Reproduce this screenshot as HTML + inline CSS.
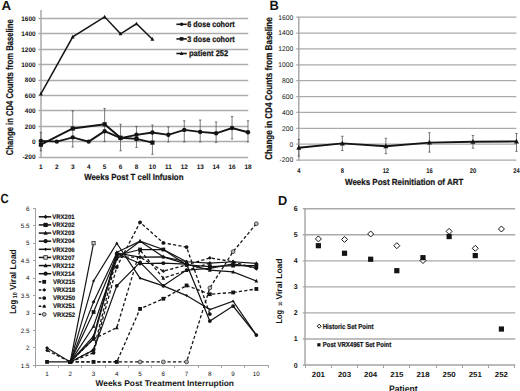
<!DOCTYPE html>
<html><head><meta charset="utf-8"><style>
html,body{margin:0;padding:0;background:#fff;}
body{width:520px;height:391px;overflow:hidden;}
svg{display:block;font-family:"Liberation Sans",sans-serif;text-rendering:geometricPrecision;}
</style></head><body>
<svg width="520" height="391" viewBox="0 0 520 391">
<rect width="520" height="391" fill="#fff"/>
<text x="1.60" y="9.90" font-size="13.2" font-weight="bold" text-anchor="start" fill="#141414" textLength="9.6" lengthAdjust="spacingAndGlyphs">A</text>
<line x1="38.40" y1="157.50" x2="248.20" y2="157.50" stroke="#acacac" stroke-width="1.3" />
<text x="35.60" y="159.30" font-size="6.6" font-weight="bold" text-anchor="end" fill="#141414">-200</text>
<line x1="38.40" y1="141.50" x2="248.20" y2="141.50" stroke="#acacac" stroke-width="1.3" />
<text x="35.60" y="143.90" font-size="6.6" font-weight="bold" text-anchor="end" fill="#141414" textLength="3.58" lengthAdjust="spacingAndGlyphs">0</text>
<line x1="38.40" y1="126.50" x2="248.20" y2="126.50" stroke="#acacac" stroke-width="1.3" />
<text x="35.60" y="128.50" font-size="6.6" font-weight="bold" text-anchor="end" fill="#141414" textLength="10.74" lengthAdjust="spacingAndGlyphs">200</text>
<line x1="38.40" y1="110.50" x2="248.20" y2="110.50" stroke="#acacac" stroke-width="1.3" />
<text x="35.60" y="113.10" font-size="6.6" font-weight="bold" text-anchor="end" fill="#141414" textLength="10.74" lengthAdjust="spacingAndGlyphs">400</text>
<line x1="38.40" y1="95.50" x2="248.20" y2="95.50" stroke="#acacac" stroke-width="1.3" />
<text x="35.60" y="97.70" font-size="6.6" font-weight="bold" text-anchor="end" fill="#141414" textLength="10.74" lengthAdjust="spacingAndGlyphs">600</text>
<line x1="38.40" y1="80.50" x2="248.20" y2="80.50" stroke="#acacac" stroke-width="1.3" />
<text x="35.60" y="82.30" font-size="6.6" font-weight="bold" text-anchor="end" fill="#141414" textLength="10.74" lengthAdjust="spacingAndGlyphs">800</text>
<line x1="38.40" y1="64.50" x2="248.20" y2="64.50" stroke="#acacac" stroke-width="1.3" />
<text x="35.60" y="66.90" font-size="6.6" font-weight="bold" text-anchor="end" fill="#141414" textLength="14.32" lengthAdjust="spacingAndGlyphs">1000</text>
<line x1="38.40" y1="49.50" x2="248.20" y2="49.50" stroke="#acacac" stroke-width="1.3" />
<text x="35.60" y="51.50" font-size="6.6" font-weight="bold" text-anchor="end" fill="#141414" textLength="14.32" lengthAdjust="spacingAndGlyphs">1200</text>
<line x1="38.40" y1="33.50" x2="248.20" y2="33.50" stroke="#acacac" stroke-width="1.3" />
<text x="35.60" y="36.10" font-size="6.6" font-weight="bold" text-anchor="end" fill="#141414" textLength="14.32" lengthAdjust="spacingAndGlyphs">1400</text>
<line x1="38.40" y1="18.50" x2="248.20" y2="18.50" stroke="#acacac" stroke-width="1.3" />
<text x="35.60" y="20.70" font-size="6.6" font-weight="bold" text-anchor="end" fill="#141414" textLength="14.32" lengthAdjust="spacingAndGlyphs">1600</text>
<line x1="41.00" y1="10.00" x2="41.00" y2="157.50" stroke="#a4a4a4" stroke-width="1.4" />
<text x="40.90" y="168.90" font-size="6.4" font-weight="bold" text-anchor="middle" fill="#141414">1</text>
<text x="56.83" y="168.90" font-size="6.4" font-weight="bold" text-anchor="middle" fill="#141414">2</text>
<text x="72.76" y="168.90" font-size="6.4" font-weight="bold" text-anchor="middle" fill="#141414">3</text>
<text x="88.69" y="168.90" font-size="6.4" font-weight="bold" text-anchor="middle" fill="#141414">4</text>
<text x="104.62" y="168.90" font-size="6.4" font-weight="bold" text-anchor="middle" fill="#141414">5</text>
<text x="120.55" y="168.90" font-size="6.4" font-weight="bold" text-anchor="middle" fill="#141414">6</text>
<text x="136.48" y="168.90" font-size="6.4" font-weight="bold" text-anchor="middle" fill="#141414">8</text>
<text x="152.41" y="168.90" font-size="6.4" font-weight="bold" text-anchor="middle" fill="#141414">10</text>
<text x="168.34" y="168.90" font-size="6.4" font-weight="bold" text-anchor="middle" fill="#141414">11</text>
<text x="184.27" y="168.90" font-size="6.4" font-weight="bold" text-anchor="middle" fill="#141414">12</text>
<text x="200.20" y="168.90" font-size="6.4" font-weight="bold" text-anchor="middle" fill="#141414">13</text>
<text x="216.13" y="168.90" font-size="6.4" font-weight="bold" text-anchor="middle" fill="#141414">14</text>
<text x="232.06" y="168.90" font-size="6.4" font-weight="bold" text-anchor="middle" fill="#141414">16</text>
<text x="247.99" y="168.90" font-size="6.4" font-weight="bold" text-anchor="middle" fill="#141414">18</text>
<text x="84.20" y="179.70" font-size="8.8" font-weight="bold" text-anchor="start" fill="#141414" textLength="99.3" lengthAdjust="spacingAndGlyphs" stroke="#141414" stroke-width="0.2">Weeks Post T cell Infusion</text>
<text x="13.50" y="155.20" font-size="9.8" font-weight="bold" text-anchor="start" fill="#141414" textLength="135.9" lengthAdjust="spacingAndGlyphs" transform="rotate(-90 13.50 155.20)" stroke="#141414" stroke-width="0.2">Change in CD4 Counts from Baseline</text>
<line x1="40.90" y1="132.36" x2="40.90" y2="150.84" stroke="#444" stroke-width="0.7" />
<line x1="39.70" y1="132.36" x2="42.10" y2="132.36" stroke="#444" stroke-width="0.7" />
<line x1="39.70" y1="150.84" x2="42.10" y2="150.84" stroke="#444" stroke-width="0.7" />
<line x1="72.76" y1="110.80" x2="72.76" y2="146.99" stroke="#444" stroke-width="0.7" />
<line x1="71.56" y1="110.80" x2="73.96" y2="110.80" stroke="#444" stroke-width="0.7" />
<line x1="71.56" y1="146.99" x2="73.96" y2="146.99" stroke="#444" stroke-width="0.7" />
<line x1="104.62" y1="108.49" x2="104.62" y2="141.60" stroke="#444" stroke-width="0.7" />
<line x1="103.42" y1="108.49" x2="105.82" y2="108.49" stroke="#444" stroke-width="0.7" />
<line x1="103.42" y1="141.60" x2="105.82" y2="141.60" stroke="#444" stroke-width="0.7" />
<line x1="120.55" y1="124.27" x2="120.55" y2="150.84" stroke="#444" stroke-width="0.7" />
<line x1="119.35" y1="124.27" x2="121.75" y2="124.27" stroke="#444" stroke-width="0.7" />
<line x1="119.35" y1="150.84" x2="121.75" y2="150.84" stroke="#444" stroke-width="0.7" />
<line x1="136.48" y1="126.58" x2="136.48" y2="147.38" stroke="#444" stroke-width="0.7" />
<line x1="135.28" y1="126.58" x2="137.68" y2="126.58" stroke="#444" stroke-width="0.7" />
<line x1="135.28" y1="147.38" x2="137.68" y2="147.38" stroke="#444" stroke-width="0.7" />
<line x1="152.41" y1="125.04" x2="152.41" y2="154.31" stroke="#444" stroke-width="0.7" />
<line x1="151.21" y1="125.04" x2="153.61" y2="125.04" stroke="#444" stroke-width="0.7" />
<line x1="151.21" y1="154.31" x2="153.61" y2="154.31" stroke="#444" stroke-width="0.7" />
<line x1="168.34" y1="126.97" x2="168.34" y2="141.98" stroke="#444" stroke-width="0.7" />
<line x1="167.14" y1="126.97" x2="169.54" y2="126.97" stroke="#444" stroke-width="0.7" />
<line x1="167.14" y1="141.98" x2="169.54" y2="141.98" stroke="#444" stroke-width="0.7" />
<line x1="184.27" y1="120.81" x2="184.27" y2="141.98" stroke="#444" stroke-width="0.7" />
<line x1="183.07" y1="120.81" x2="185.47" y2="120.81" stroke="#444" stroke-width="0.7" />
<line x1="183.07" y1="141.98" x2="185.47" y2="141.98" stroke="#444" stroke-width="0.7" />
<line x1="200.20" y1="120.04" x2="200.20" y2="141.98" stroke="#444" stroke-width="0.7" />
<line x1="199.00" y1="120.04" x2="201.40" y2="120.04" stroke="#444" stroke-width="0.7" />
<line x1="199.00" y1="141.98" x2="201.40" y2="141.98" stroke="#444" stroke-width="0.7" />
<line x1="216.13" y1="121.96" x2="216.13" y2="142.37" stroke="#444" stroke-width="0.7" />
<line x1="214.93" y1="121.96" x2="217.33" y2="121.96" stroke="#444" stroke-width="0.7" />
<line x1="214.93" y1="142.37" x2="217.33" y2="142.37" stroke="#444" stroke-width="0.7" />
<line x1="232.06" y1="116.57" x2="232.06" y2="138.91" stroke="#444" stroke-width="0.7" />
<line x1="230.86" y1="116.57" x2="233.26" y2="116.57" stroke="#444" stroke-width="0.7" />
<line x1="230.86" y1="138.91" x2="233.26" y2="138.91" stroke="#444" stroke-width="0.7" />
<line x1="247.99" y1="120.81" x2="247.99" y2="141.98" stroke="#444" stroke-width="0.7" />
<line x1="246.79" y1="120.81" x2="249.19" y2="120.81" stroke="#444" stroke-width="0.7" />
<line x1="246.79" y1="141.98" x2="249.19" y2="141.98" stroke="#444" stroke-width="0.7" />
<polyline points="40.90,93.86 72.76,36.88 104.62,16.86 120.55,33.80 136.48,23.79 152.41,39.19" fill="none" stroke="#141414" stroke-width="1.5" stroke-linejoin="miter"/>
<polygon points="40.90,91.77 42.80,95.38 39.00,95.38" fill="#141414"/>
<polygon points="72.76,34.79 74.66,38.40 70.86,38.40" fill="#141414"/>
<polygon points="104.62,14.77 106.52,18.38 102.72,18.38" fill="#141414"/>
<polygon points="120.55,31.71 122.45,35.32 118.65,35.32" fill="#141414"/>
<polygon points="136.48,21.70 138.38,25.31 134.58,25.31" fill="#141414"/>
<polygon points="152.41,37.10 154.31,40.71 150.51,40.71" fill="#141414"/>
<polyline points="40.90,140.83 56.83,141.60 72.76,137.36 88.69,141.60 104.62,131.20 120.55,138.13 136.48,134.82 152.41,132.51 168.34,134.82 184.27,129.90 200.20,131.90 216.13,133.28 232.06,128.05 247.99,132.21" fill="none" stroke="#141414" stroke-width="1.9" stroke-linejoin="miter"/>
<circle cx="40.90" cy="140.83" r="2.20" fill="#141414"/>
<circle cx="56.83" cy="141.60" r="2.20" fill="#141414"/>
<circle cx="72.76" cy="137.36" r="2.20" fill="#141414"/>
<circle cx="88.69" cy="141.60" r="2.20" fill="#141414"/>
<circle cx="104.62" cy="131.20" r="2.20" fill="#141414"/>
<circle cx="120.55" cy="138.13" r="2.20" fill="#141414"/>
<circle cx="136.48" cy="134.82" r="2.20" fill="#141414"/>
<circle cx="152.41" cy="132.51" r="2.20" fill="#141414"/>
<circle cx="168.34" cy="134.82" r="2.20" fill="#141414"/>
<circle cx="184.27" cy="129.90" r="2.20" fill="#141414"/>
<circle cx="200.20" cy="131.90" r="2.20" fill="#141414"/>
<circle cx="216.13" cy="133.28" r="2.20" fill="#141414"/>
<circle cx="232.06" cy="128.05" r="2.20" fill="#141414"/>
<circle cx="247.99" cy="132.21" r="2.20" fill="#141414"/>
<polyline points="40.90,144.68 72.76,128.51 104.62,124.27 120.55,137.75 136.48,138.91 152.41,142.60" fill="none" stroke="#141414" stroke-width="1.9" stroke-linejoin="miter"/>
<rect x="38.80" y="142.58" width="4.20" height="4.20" fill="#141414"/>
<rect x="70.66" y="126.41" width="4.20" height="4.20" fill="#141414"/>
<rect x="102.52" y="122.17" width="4.20" height="4.20" fill="#141414"/>
<rect x="118.45" y="135.65" width="4.20" height="4.20" fill="#141414"/>
<rect x="134.38" y="136.81" width="4.20" height="4.20" fill="#141414"/>
<rect x="150.31" y="140.50" width="4.20" height="4.20" fill="#141414"/>
<line x1="176.40" y1="24.30" x2="186.80" y2="24.30" stroke="#141414" stroke-width="1.6" />
<circle cx="181.60" cy="24.30" r="1.80" fill="#141414"/>
<text x="187.30" y="27.20" font-size="8.2" font-weight="bold" text-anchor="start" fill="#141414" textLength="47.3" lengthAdjust="spacingAndGlyphs" stroke="#141414" stroke-width="0.25">6 dose cohort</text>
<line x1="176.40" y1="38.90" x2="186.80" y2="38.90" stroke="#141414" stroke-width="1.6" />
<rect x="179.80" y="37.10" width="3.60" height="3.60" fill="#141414"/>
<text x="187.30" y="41.80" font-size="8.2" font-weight="bold" text-anchor="start" fill="#141414" textLength="47.3" lengthAdjust="spacingAndGlyphs" stroke="#141414" stroke-width="0.25">3 dose cohort</text>
<line x1="176.40" y1="53.50" x2="186.80" y2="53.50" stroke="#141414" stroke-width="1.6" />
<polygon points="181.60,51.52 183.40,54.94 179.80,54.94" fill="#141414"/>
<text x="188.90" y="56.40" font-size="8.2" font-weight="bold" text-anchor="start" fill="#141414" textLength="39.3" lengthAdjust="spacingAndGlyphs" stroke="#141414" stroke-width="0.25">patient 252</text>
<text x="269.40" y="9.60" font-size="13.4" font-weight="bold" text-anchor="start" fill="#141414" textLength="9.3" lengthAdjust="spacingAndGlyphs">B</text>
<line x1="296.20" y1="160.07" x2="516.40" y2="160.07" stroke="#aaaaaa" stroke-width="1.3" />
<text x="293.20" y="162.47" font-size="6.8" font-weight="normal" text-anchor="end" fill="#141414">-200</text>
<line x1="296.20" y1="144.20" x2="516.40" y2="144.20" stroke="#aaaaaa" stroke-width="1.3" />
<text x="293.20" y="146.60" font-size="6.8" font-weight="normal" text-anchor="end" fill="#141414" textLength="3.75" lengthAdjust="spacingAndGlyphs">0</text>
<line x1="296.20" y1="128.32" x2="516.40" y2="128.32" stroke="#aaaaaa" stroke-width="1.3" />
<text x="293.20" y="130.72" font-size="6.8" font-weight="normal" text-anchor="end" fill="#141414" textLength="11.25" lengthAdjust="spacingAndGlyphs">200</text>
<line x1="296.20" y1="112.45" x2="516.40" y2="112.45" stroke="#aaaaaa" stroke-width="1.3" />
<text x="293.20" y="114.85" font-size="6.8" font-weight="normal" text-anchor="end" fill="#141414" textLength="11.25" lengthAdjust="spacingAndGlyphs">400</text>
<line x1="296.20" y1="96.57" x2="516.40" y2="96.57" stroke="#aaaaaa" stroke-width="1.3" />
<text x="293.20" y="98.97" font-size="6.8" font-weight="normal" text-anchor="end" fill="#141414" textLength="11.25" lengthAdjust="spacingAndGlyphs">600</text>
<line x1="296.20" y1="80.70" x2="516.40" y2="80.70" stroke="#aaaaaa" stroke-width="1.3" />
<text x="293.20" y="83.10" font-size="6.8" font-weight="normal" text-anchor="end" fill="#141414" textLength="11.25" lengthAdjust="spacingAndGlyphs">800</text>
<line x1="296.20" y1="64.82" x2="516.40" y2="64.82" stroke="#aaaaaa" stroke-width="1.3" />
<text x="293.20" y="67.22" font-size="6.8" font-weight="normal" text-anchor="end" fill="#141414" textLength="15.0" lengthAdjust="spacingAndGlyphs">1000</text>
<line x1="296.20" y1="48.95" x2="516.40" y2="48.95" stroke="#aaaaaa" stroke-width="1.3" />
<text x="293.20" y="51.35" font-size="6.8" font-weight="normal" text-anchor="end" fill="#141414" textLength="15.0" lengthAdjust="spacingAndGlyphs">1200</text>
<line x1="296.20" y1="33.07" x2="516.40" y2="33.07" stroke="#aaaaaa" stroke-width="1.3" />
<text x="293.20" y="35.47" font-size="6.8" font-weight="normal" text-anchor="end" fill="#141414" textLength="15.0" lengthAdjust="spacingAndGlyphs">1400</text>
<line x1="296.20" y1="17.20" x2="516.40" y2="17.20" stroke="#aaaaaa" stroke-width="1.3" />
<text x="293.20" y="19.60" font-size="6.8" font-weight="normal" text-anchor="end" fill="#141414" textLength="15.0" lengthAdjust="spacingAndGlyphs">1600</text>
<line x1="298.80" y1="16.70" x2="298.80" y2="160.57" stroke="#a4a4a4" stroke-width="1.4" />
<text x="298.80" y="172.90" font-size="6.8" font-weight="bold" text-anchor="middle" fill="#141414" textLength="3.2" lengthAdjust="spacingAndGlyphs">4</text>
<text x="342.34" y="172.90" font-size="6.8" font-weight="bold" text-anchor="middle" fill="#141414" textLength="3.2" lengthAdjust="spacingAndGlyphs">8</text>
<text x="385.88" y="172.90" font-size="6.8" font-weight="bold" text-anchor="middle" fill="#141414" textLength="6.4" lengthAdjust="spacingAndGlyphs">12</text>
<text x="429.42" y="172.90" font-size="6.8" font-weight="bold" text-anchor="middle" fill="#141414" textLength="6.4" lengthAdjust="spacingAndGlyphs">16</text>
<text x="472.96" y="172.90" font-size="6.8" font-weight="bold" text-anchor="middle" fill="#141414" textLength="6.4" lengthAdjust="spacingAndGlyphs">20</text>
<text x="516.50" y="172.90" font-size="6.8" font-weight="bold" text-anchor="middle" fill="#141414" textLength="6.4" lengthAdjust="spacingAndGlyphs">24</text>
<text x="345.00" y="184.60" font-size="8.9" font-weight="bold" text-anchor="start" fill="#141414" textLength="118.3" lengthAdjust="spacingAndGlyphs" stroke="#141414" stroke-width="0.2">Weeks Post Reinitiation of ART</text>
<text x="272.30" y="159.80" font-size="9.8" font-weight="bold" text-anchor="start" fill="#141414" textLength="142.5" lengthAdjust="spacingAndGlyphs" transform="rotate(-90 272.30 159.80)" stroke="#141414" stroke-width="0.2">Change in CD4 Counts from Baseline</text>
<line x1="298.80" y1="139.44" x2="298.80" y2="156.11" stroke="#555" stroke-width="0.8" />
<line x1="297.60" y1="139.44" x2="300.00" y2="139.44" stroke="#555" stroke-width="0.8" />
<line x1="297.60" y1="156.11" x2="300.00" y2="156.11" stroke="#555" stroke-width="0.8" />
<line x1="342.34" y1="136.26" x2="342.34" y2="150.55" stroke="#555" stroke-width="0.8" />
<line x1="341.14" y1="136.26" x2="343.54" y2="136.26" stroke="#555" stroke-width="0.8" />
<line x1="341.14" y1="150.55" x2="343.54" y2="150.55" stroke="#555" stroke-width="0.8" />
<line x1="385.88" y1="138.25" x2="385.88" y2="153.72" stroke="#555" stroke-width="0.8" />
<line x1="384.68" y1="138.25" x2="387.08" y2="138.25" stroke="#555" stroke-width="0.8" />
<line x1="384.68" y1="153.72" x2="387.08" y2="153.72" stroke="#555" stroke-width="0.8" />
<line x1="429.42" y1="132.69" x2="429.42" y2="152.14" stroke="#555" stroke-width="0.8" />
<line x1="428.22" y1="132.69" x2="430.62" y2="132.69" stroke="#555" stroke-width="0.8" />
<line x1="428.22" y1="152.14" x2="430.62" y2="152.14" stroke="#555" stroke-width="0.8" />
<line x1="472.96" y1="135.47" x2="472.96" y2="148.17" stroke="#555" stroke-width="0.8" />
<line x1="471.76" y1="135.47" x2="474.16" y2="135.47" stroke="#555" stroke-width="0.8" />
<line x1="471.76" y1="148.17" x2="474.16" y2="148.17" stroke="#555" stroke-width="0.8" />
<line x1="516.50" y1="133.48" x2="516.50" y2="151.34" stroke="#555" stroke-width="0.8" />
<line x1="515.30" y1="133.48" x2="517.70" y2="133.48" stroke="#555" stroke-width="0.8" />
<line x1="515.30" y1="151.34" x2="517.70" y2="151.34" stroke="#555" stroke-width="0.8" />
<polyline points="298.80,147.77 342.34,143.41 385.88,146.18 429.42,142.61 472.96,141.82 516.50,141.42" fill="none" stroke="#141414" stroke-width="1.9" stroke-linejoin="miter"/>
<polygon points="298.80,145.02 301.30,149.77 296.30,149.77" fill="#141414"/>
<polygon points="342.34,140.66 344.84,145.41 339.84,145.41" fill="#141414"/>
<polygon points="385.88,143.43 388.38,148.18 383.38,148.18" fill="#141414"/>
<polygon points="429.42,139.86 431.92,144.61 426.92,144.61" fill="#141414"/>
<polygon points="472.96,139.07 475.46,143.82 470.46,143.82" fill="#141414"/>
<polygon points="516.50,138.67 519.00,143.42 514.00,143.42" fill="#141414"/>
<text x="0.50" y="203.40" font-size="13.2" font-weight="bold" text-anchor="start" fill="#141414" textLength="8.2" lengthAdjust="spacingAndGlyphs">C</text>
<line x1="35.50" y1="207.85" x2="35.50" y2="365.60" stroke="#a0a0a0" stroke-width="1" />
<line x1="33.00" y1="365.50" x2="35.40" y2="365.50" stroke="#a0a0a0" stroke-width="1" />
<text x="29.40" y="367.60" font-size="6.3" font-weight="normal" text-anchor="end" fill="#141414">1.5</text>
<line x1="33.00" y1="347.50" x2="35.40" y2="347.50" stroke="#a0a0a0" stroke-width="1" />
<text x="29.40" y="350.15" font-size="6.3" font-weight="normal" text-anchor="end" fill="#141414">2</text>
<line x1="33.00" y1="330.50" x2="35.40" y2="330.50" stroke="#a0a0a0" stroke-width="1" />
<text x="29.40" y="332.70" font-size="6.3" font-weight="normal" text-anchor="end" fill="#141414">2.5</text>
<line x1="33.00" y1="313.50" x2="35.40" y2="313.50" stroke="#a0a0a0" stroke-width="1" />
<text x="29.40" y="315.25" font-size="6.3" font-weight="normal" text-anchor="end" fill="#141414">3</text>
<line x1="33.00" y1="295.50" x2="35.40" y2="295.50" stroke="#a0a0a0" stroke-width="1" />
<text x="29.40" y="297.80" font-size="6.3" font-weight="normal" text-anchor="end" fill="#141414">3.5</text>
<line x1="33.00" y1="278.50" x2="35.40" y2="278.50" stroke="#a0a0a0" stroke-width="1" />
<text x="29.40" y="280.35" font-size="6.3" font-weight="normal" text-anchor="end" fill="#141414">4</text>
<line x1="33.00" y1="260.50" x2="35.40" y2="260.50" stroke="#a0a0a0" stroke-width="1" />
<text x="29.40" y="262.90" font-size="6.3" font-weight="normal" text-anchor="end" fill="#141414">4.5</text>
<line x1="33.00" y1="243.50" x2="35.40" y2="243.50" stroke="#a0a0a0" stroke-width="1" />
<text x="29.40" y="245.45" font-size="6.3" font-weight="normal" text-anchor="end" fill="#141414">5</text>
<line x1="33.00" y1="225.50" x2="35.40" y2="225.50" stroke="#a0a0a0" stroke-width="1" />
<text x="29.40" y="228.00" font-size="6.3" font-weight="normal" text-anchor="end" fill="#141414">5.5</text>
<line x1="33.00" y1="208.50" x2="35.40" y2="208.50" stroke="#a0a0a0" stroke-width="1" />
<text x="29.40" y="210.55" font-size="6.3" font-weight="normal" text-anchor="end" fill="#141414">6</text>
<line x1="35.40" y1="365.50" x2="268.50" y2="365.50" stroke="#a0a0a0" stroke-width="1" />
<line x1="35.50" y1="365.20" x2="35.50" y2="367.80" stroke="#a0a0a0" stroke-width="1" />
<line x1="58.50" y1="365.20" x2="58.50" y2="367.80" stroke="#a0a0a0" stroke-width="1" />
<line x1="81.50" y1="365.20" x2="81.50" y2="367.80" stroke="#a0a0a0" stroke-width="1" />
<line x1="105.50" y1="365.20" x2="105.50" y2="367.80" stroke="#a0a0a0" stroke-width="1" />
<line x1="128.50" y1="365.20" x2="128.50" y2="367.80" stroke="#a0a0a0" stroke-width="1" />
<line x1="151.50" y1="365.20" x2="151.50" y2="367.80" stroke="#a0a0a0" stroke-width="1" />
<line x1="174.50" y1="365.20" x2="174.50" y2="367.80" stroke="#a0a0a0" stroke-width="1" />
<line x1="198.50" y1="365.20" x2="198.50" y2="367.80" stroke="#a0a0a0" stroke-width="1" />
<line x1="221.50" y1="365.20" x2="221.50" y2="367.80" stroke="#a0a0a0" stroke-width="1" />
<line x1="244.50" y1="365.20" x2="244.50" y2="367.80" stroke="#a0a0a0" stroke-width="1" />
<line x1="268.50" y1="365.20" x2="268.50" y2="367.80" stroke="#a0a0a0" stroke-width="1" />
<text x="47.03" y="376.20" font-size="6.3" font-weight="normal" text-anchor="middle" fill="#141414">1</text>
<text x="70.29" y="376.20" font-size="6.3" font-weight="normal" text-anchor="middle" fill="#141414">2</text>
<text x="93.55" y="376.20" font-size="6.3" font-weight="normal" text-anchor="middle" fill="#141414">3</text>
<text x="116.81" y="376.20" font-size="6.3" font-weight="normal" text-anchor="middle" fill="#141414">4</text>
<text x="140.07" y="376.20" font-size="6.3" font-weight="normal" text-anchor="middle" fill="#141414">5</text>
<text x="163.33" y="376.20" font-size="6.3" font-weight="normal" text-anchor="middle" fill="#141414">6</text>
<text x="186.59" y="376.20" font-size="6.3" font-weight="normal" text-anchor="middle" fill="#141414">7</text>
<text x="209.85" y="376.20" font-size="6.3" font-weight="normal" text-anchor="middle" fill="#141414">8</text>
<text x="233.11" y="376.20" font-size="6.3" font-weight="normal" text-anchor="middle" fill="#141414">9</text>
<text x="256.37" y="376.20" font-size="6.3" font-weight="normal" text-anchor="middle" fill="#141414">10</text>
<text x="95.50" y="386.40" font-size="8.2" font-weight="bold" text-anchor="start" fill="#141414" textLength="138.5" lengthAdjust="spacingAndGlyphs">Weeks Post Treatment Interruption</text>
<text transform="translate(15.90 313.80) rotate(-90)" font-size="9.2" font-weight="bold" fill="#141414" textLength="14.00" lengthAdjust="spacingAndGlyphs">Log</text>
<text transform="translate(16.60 298.20) rotate(-90)" font-size="6.0" font-weight="bold" fill="#141414" textLength="5.80" lengthAdjust="spacingAndGlyphs">10</text>
<text transform="translate(15.90 290.00) rotate(-90)" font-size="8.8" font-weight="bold" fill="#141414" textLength="40.80" lengthAdjust="spacingAndGlyphs">Viral Load</text>
<polyline points="47.03,347.95 70.29,361.91 93.55,301.88 116.81,253.02 140.07,257.21 163.33,256.86 186.59,261.75 209.85,263.14 233.11,261.75 256.37,263.49" fill="none" stroke="#141414" stroke-width="1.2" stroke-linejoin="miter"/>
<polyline points="47.03,361.91 70.29,361.91 93.55,312.00 116.81,255.46 140.07,249.53 163.33,249.53 186.59,264.89 209.85,266.63 233.11,265.59 256.37,265.59" fill="none" stroke="#141414" stroke-width="1.2" stroke-linejoin="miter"/>
<polyline points="70.29,361.91 93.55,326.31 116.81,258.95 140.07,241.16 163.33,256.86 186.59,264.19 209.85,270.12 233.11,271.87 256.37,280.94" fill="none" stroke="#141414" stroke-width="1.2" stroke-linejoin="miter"/>
<polyline points="70.29,361.91 93.55,338.88 116.81,253.72 140.07,263.49 163.33,263.14 186.59,264.19 209.85,321.08 233.11,306.07 256.37,335.04" fill="none" stroke="#141414" stroke-width="1.2" stroke-linejoin="miter"/>
<polyline points="70.29,361.91 93.55,280.94 116.81,243.25 140.07,278.15 163.33,285.83 186.59,295.60 209.85,309.56 233.11,301.18 256.37,335.04" fill="none" stroke="#141414" stroke-width="1.2" stroke-linejoin="miter"/>
<polyline points="70.29,361.91 93.55,243.25" fill="none" stroke="#141414" stroke-width="1.2" stroke-linejoin="miter"/>
<polyline points="70.29,361.91 93.55,336.08 116.81,252.32 140.07,241.16 163.33,249.53 186.59,261.75" fill="none" stroke="#141414" stroke-width="1.2" stroke-linejoin="miter"/>
<polyline points="70.29,361.91 93.55,350.04 116.81,285.83 140.07,262.44 163.33,285.83 186.59,270.12 209.85,268.38 233.11,263.84 256.37,267.68" fill="none" stroke="#141414" stroke-width="1.2" stroke-linejoin="miter"/>
<polyline points="70.29,361.91 93.55,361.91 116.81,361.91 140.07,308.86 163.33,298.74 186.59,285.48 209.85,294.20 233.11,292.46 256.37,288.97" fill="none" stroke="#141414" stroke-width="1.3" stroke-linejoin="miter" stroke-dasharray="3.2 2.2"/>
<polyline points="47.03,350.39 70.29,361.91 93.55,350.04 116.81,257.21 140.07,257.21 163.33,271.17 186.59,264.89 209.85,257.91 233.11,261.75 256.37,268.73" fill="none" stroke="#141414" stroke-width="1.3" stroke-linejoin="miter" stroke-dasharray="3.2 2.2"/>
<polyline points="70.29,361.91 93.55,352.84 116.81,266.98 140.07,222.31 163.33,242.90 186.59,247.09 209.85,314.10" fill="none" stroke="#141414" stroke-width="1.3" stroke-linejoin="miter" stroke-dasharray="3.2 2.2"/>
<polyline points="70.29,361.91 93.55,338.88 116.81,327.71 140.07,250.23 163.33,278.15 186.59,270.47 209.85,263.14" fill="none" stroke="#141414" stroke-width="1.3" stroke-linejoin="miter" stroke-dasharray="3.2 2.2"/>
<polyline points="70.29,361.91 93.55,361.91 116.81,361.91 140.07,361.91 163.33,361.91 186.59,361.91 209.85,287.92 233.11,251.63 256.37,223.71" fill="none" stroke="#141414" stroke-width="1.3" stroke-linejoin="miter" stroke-dasharray="3.2 2.2"/>
<polygon points="47.03,346.05 48.93,347.95 47.03,349.85 45.13,347.95" fill="#141414"/>
<polygon points="70.29,360.01 72.19,361.91 70.29,363.81 68.39,361.91" fill="#141414"/>
<polygon points="93.55,299.98 95.45,301.88 93.55,303.78 91.65,301.88" fill="#141414"/>
<polygon points="116.81,251.12 118.71,253.02 116.81,254.92 114.91,253.02" fill="#141414"/>
<polygon points="140.07,255.31 141.97,257.21 140.07,259.11 138.17,257.21" fill="#141414"/>
<polygon points="163.33,254.96 165.23,256.86 163.33,258.76 161.43,256.86" fill="#141414"/>
<polygon points="186.59,259.85 188.49,261.75 186.59,263.65 184.69,261.75" fill="#141414"/>
<polygon points="209.85,261.24 211.75,263.14 209.85,265.04 207.95,263.14" fill="#141414"/>
<polygon points="233.11,259.85 235.01,261.75 233.11,263.65 231.21,261.75" fill="#141414"/>
<polygon points="256.37,261.59 258.27,263.49 256.37,265.39 254.47,263.49" fill="#141414"/>
<rect x="45.13" y="360.01" width="3.80" height="3.80" fill="#141414"/>
<rect x="68.39" y="360.01" width="3.80" height="3.80" fill="#141414"/>
<rect x="91.65" y="310.10" width="3.80" height="3.80" fill="#141414"/>
<rect x="114.91" y="253.56" width="3.80" height="3.80" fill="#141414"/>
<rect x="138.17" y="247.63" width="3.80" height="3.80" fill="#141414"/>
<rect x="161.43" y="247.63" width="3.80" height="3.80" fill="#141414"/>
<rect x="184.69" y="262.99" width="3.80" height="3.80" fill="#141414"/>
<rect x="207.95" y="264.73" width="3.80" height="3.80" fill="#141414"/>
<rect x="231.21" y="263.69" width="3.80" height="3.80" fill="#141414"/>
<rect x="254.47" y="263.69" width="3.80" height="3.80" fill="#141414"/>
<polygon points="70.29,359.82 72.19,363.43 68.39,363.43" fill="#141414"/>
<polygon points="93.55,324.22 95.45,327.83 91.65,327.83" fill="#141414"/>
<polygon points="116.81,256.87 118.71,260.47 114.91,260.47" fill="#141414"/>
<polygon points="140.07,239.07 141.97,242.68 138.17,242.68" fill="#141414"/>
<polygon points="163.33,254.77 165.23,258.38 161.43,258.38" fill="#141414"/>
<polygon points="186.59,262.10 188.49,265.71 184.69,265.71" fill="#141414"/>
<polygon points="209.85,268.03 211.75,271.64 207.95,271.64" fill="#141414"/>
<polygon points="233.11,269.78 235.01,273.39 231.21,273.39" fill="#141414"/>
<polygon points="256.37,278.85 258.27,282.46 254.47,282.46" fill="#141414"/>
<circle cx="70.29" cy="361.91" r="1.90" fill="#141414"/>
<circle cx="93.55" cy="338.88" r="1.90" fill="#141414"/>
<circle cx="116.81" cy="253.72" r="1.90" fill="#141414"/>
<circle cx="140.07" cy="263.49" r="1.90" fill="#141414"/>
<circle cx="163.33" cy="263.14" r="1.90" fill="#141414"/>
<circle cx="186.59" cy="264.19" r="1.90" fill="#141414"/>
<circle cx="209.85" cy="321.08" r="1.90" fill="#141414"/>
<circle cx="233.11" cy="306.07" r="1.90" fill="#141414"/>
<circle cx="256.37" cy="335.04" r="1.90" fill="#141414"/>
<polygon points="70.29,360.39 71.81,361.91 70.29,363.43 68.77,361.91" fill="#141414"/>
<polygon points="93.55,279.42 95.07,280.94 93.55,282.46 92.03,280.94" fill="#141414"/>
<polygon points="116.81,241.73 118.33,243.25 116.81,244.77 115.29,243.25" fill="#141414"/>
<polygon points="140.07,276.63 141.59,278.15 140.07,279.67 138.55,278.15" fill="#141414"/>
<polygon points="163.33,284.31 164.85,285.83 163.33,287.35 161.81,285.83" fill="#141414"/>
<polygon points="186.59,294.08 188.11,295.60 186.59,297.12 185.07,295.60" fill="#141414"/>
<polygon points="209.85,308.04 211.37,309.56 209.85,311.08 208.33,309.56" fill="#141414"/>
<polygon points="233.11,299.66 234.63,301.18 233.11,302.70 231.59,301.18" fill="#141414"/>
<polygon points="256.37,333.52 257.89,335.04 256.37,336.56 254.85,335.04" fill="#141414"/>
<rect x="68.67" y="360.29" width="3.23" height="3.23" fill="#c8c8c8" stroke="#141414" stroke-width="0.7"/>
<rect x="91.94" y="241.63" width="3.23" height="3.23" fill="#c8c8c8" stroke="#141414" stroke-width="0.7"/>
<polygon points="70.29,359.82 72.19,363.43 68.39,363.43" fill="#141414"/>
<polygon points="93.55,333.99 95.45,337.60 91.65,337.60" fill="#141414"/>
<polygon points="116.81,250.23 118.71,253.84 114.91,253.84" fill="#141414"/>
<polygon points="140.07,239.07 141.97,242.68 138.17,242.68" fill="#141414"/>
<polygon points="163.33,247.44 165.23,251.05 161.43,251.05" fill="#141414"/>
<polygon points="186.59,259.66 188.49,263.27 184.69,263.27" fill="#141414"/>
<circle cx="70.29" cy="361.91" r="1.90" fill="#141414"/>
<circle cx="93.55" cy="350.04" r="1.90" fill="#141414"/>
<circle cx="116.81" cy="285.83" r="1.90" fill="#141414"/>
<circle cx="140.07" cy="262.44" r="1.90" fill="#141414"/>
<circle cx="163.33" cy="285.83" r="1.90" fill="#141414"/>
<circle cx="186.59" cy="270.12" r="1.90" fill="#141414"/>
<circle cx="209.85" cy="268.38" r="1.90" fill="#141414"/>
<circle cx="233.11" cy="263.84" r="1.90" fill="#141414"/>
<circle cx="256.37" cy="267.68" r="1.90" fill="#141414"/>
<rect x="68.39" y="360.01" width="3.80" height="3.80" fill="#141414"/>
<rect x="91.65" y="360.01" width="3.80" height="3.80" fill="#141414"/>
<rect x="114.91" y="360.01" width="3.80" height="3.80" fill="#141414"/>
<rect x="138.17" y="306.96" width="3.80" height="3.80" fill="#141414"/>
<rect x="161.43" y="296.84" width="3.80" height="3.80" fill="#141414"/>
<rect x="184.69" y="283.58" width="3.80" height="3.80" fill="#141414"/>
<rect x="207.95" y="292.30" width="3.80" height="3.80" fill="#141414"/>
<rect x="231.21" y="290.56" width="3.80" height="3.80" fill="#141414"/>
<rect x="254.47" y="287.07" width="3.80" height="3.80" fill="#141414"/>
<polygon points="47.03,348.49 48.93,350.39 47.03,352.29 45.13,350.39" fill="#141414"/>
<polygon points="70.29,360.01 72.19,361.91 70.29,363.81 68.39,361.91" fill="#141414"/>
<polygon points="93.55,348.14 95.45,350.04 93.55,351.94 91.65,350.04" fill="#141414"/>
<polygon points="116.81,255.31 118.71,257.21 116.81,259.11 114.91,257.21" fill="#141414"/>
<polygon points="140.07,255.31 141.97,257.21 140.07,259.11 138.17,257.21" fill="#141414"/>
<polygon points="163.33,269.27 165.23,271.17 163.33,273.07 161.43,271.17" fill="#141414"/>
<polygon points="186.59,262.99 188.49,264.89 186.59,266.79 184.69,264.89" fill="#141414"/>
<polygon points="209.85,256.01 211.75,257.91 209.85,259.81 207.95,257.91" fill="#141414"/>
<polygon points="233.11,259.85 235.01,261.75 233.11,263.65 231.21,261.75" fill="#141414"/>
<polygon points="256.37,266.83 258.27,268.73 256.37,270.63 254.47,268.73" fill="#141414"/>
<circle cx="70.29" cy="361.91" r="1.90" fill="#141414"/>
<circle cx="93.55" cy="352.84" r="1.90" fill="#141414"/>
<circle cx="116.81" cy="266.98" r="1.90" fill="#141414"/>
<circle cx="140.07" cy="222.31" r="1.90" fill="#141414"/>
<circle cx="163.33" cy="242.90" r="1.90" fill="#141414"/>
<circle cx="186.59" cy="247.09" r="1.90" fill="#141414"/>
<circle cx="209.85" cy="314.10" r="1.90" fill="#141414"/>
<polygon points="70.29,359.82 72.19,363.43 68.39,363.43" fill="#141414"/>
<polygon points="93.55,336.79 95.45,340.40 91.65,340.40" fill="#141414"/>
<polygon points="116.81,325.62 118.71,329.23 114.91,329.23" fill="#141414"/>
<polygon points="140.07,248.14 141.97,251.75 138.17,251.75" fill="#141414"/>
<polygon points="163.33,276.06 165.23,279.67 161.43,279.67" fill="#141414"/>
<polygon points="186.59,268.38 188.49,271.99 184.69,271.99" fill="#141414"/>
<polygon points="209.85,261.05 211.75,264.66 207.95,264.66" fill="#141414"/>
<circle cx="140.07" cy="361.91" r="1.90" fill="#bbb" stroke="#141414" stroke-width="0.7"/>
<circle cx="163.33" cy="361.91" r="1.90" fill="#bbb" stroke="#141414" stroke-width="0.7"/>
<circle cx="186.59" cy="361.91" r="1.90" fill="#bbb" stroke="#141414" stroke-width="0.7"/>
<circle cx="209.85" cy="287.92" r="1.90" fill="#bbb" stroke="#141414" stroke-width="0.7"/>
<circle cx="233.11" cy="251.63" r="1.90" fill="#bbb" stroke="#141414" stroke-width="0.7"/>
<circle cx="256.37" cy="223.71" r="1.90" fill="#bbb" stroke="#141414" stroke-width="0.7"/>
<line x1="38.80" y1="216.80" x2="51.20" y2="216.80" stroke="#141414" stroke-width="1.5" />
<polygon points="45.60,214.70 47.70,216.80 45.60,218.90 43.50,216.80" fill="#141414"/>
<text x="52.30" y="219.00" font-size="6.4" font-weight="bold" text-anchor="start" fill="#141414" textLength="22.3" lengthAdjust="spacingAndGlyphs" stroke="#141414" stroke-width="0.15">VRX201</text>
<line x1="38.80" y1="224.93" x2="51.20" y2="224.93" stroke="#141414" stroke-width="1.5" />
<rect x="43.50" y="222.83" width="4.20" height="4.20" fill="#141414"/>
<text x="52.30" y="227.13" font-size="6.4" font-weight="bold" text-anchor="start" fill="#141414" textLength="22.3" lengthAdjust="spacingAndGlyphs" stroke="#141414" stroke-width="0.15">VRX202</text>
<line x1="38.80" y1="233.06" x2="51.20" y2="233.06" stroke="#141414" stroke-width="1.5" />
<polygon points="45.60,230.75 47.70,234.74 43.50,234.74" fill="#141414"/>
<text x="52.30" y="235.26" font-size="6.4" font-weight="bold" text-anchor="start" fill="#141414" textLength="22.3" lengthAdjust="spacingAndGlyphs" stroke="#141414" stroke-width="0.15">VRX203</text>
<line x1="38.80" y1="241.19" x2="51.20" y2="241.19" stroke="#141414" stroke-width="1.5" />
<circle cx="45.60" cy="241.19" r="2.10" fill="#141414"/>
<text x="52.30" y="243.39" font-size="6.4" font-weight="bold" text-anchor="start" fill="#141414" textLength="22.3" lengthAdjust="spacingAndGlyphs" stroke="#141414" stroke-width="0.15">VRX204</text>
<line x1="38.80" y1="249.32" x2="51.20" y2="249.32" stroke="#141414" stroke-width="1.5" />
<polygon points="45.60,247.64 47.28,249.32 45.60,251.00 43.92,249.32" fill="#141414"/>
<text x="52.30" y="251.52" font-size="6.4" font-weight="bold" text-anchor="start" fill="#141414" textLength="22.3" lengthAdjust="spacingAndGlyphs" stroke="#141414" stroke-width="0.15">VRX206</text>
<line x1="38.80" y1="257.45" x2="51.20" y2="257.45" stroke="#141414" stroke-width="1.5" />
<rect x="43.82" y="255.67" width="3.57" height="3.57" fill="#c8c8c8" stroke="#141414" stroke-width="0.7"/>
<text x="52.30" y="259.65" font-size="6.4" font-weight="bold" text-anchor="start" fill="#141414" textLength="22.3" lengthAdjust="spacingAndGlyphs" stroke="#141414" stroke-width="0.15">VRX207</text>
<line x1="38.80" y1="265.58" x2="51.20" y2="265.58" stroke="#141414" stroke-width="1.5" />
<polygon points="45.60,263.27 47.70,267.26 43.50,267.26" fill="#141414"/>
<text x="52.30" y="267.78" font-size="6.4" font-weight="bold" text-anchor="start" fill="#141414" textLength="22.3" lengthAdjust="spacingAndGlyphs" stroke="#141414" stroke-width="0.15">VRX212</text>
<line x1="38.80" y1="273.71" x2="51.20" y2="273.71" stroke="#141414" stroke-width="1.5" />
<circle cx="45.60" cy="273.71" r="2.10" fill="#141414"/>
<text x="52.30" y="275.91" font-size="6.4" font-weight="bold" text-anchor="start" fill="#141414" textLength="22.3" lengthAdjust="spacingAndGlyphs" stroke="#141414" stroke-width="0.15">VRX214</text>
<line x1="38.80" y1="281.84" x2="41.30" y2="281.84" stroke="#141414" stroke-width="1.5" />
<line x1="42.80" y1="281.84" x2="45.60" y2="281.84" stroke="#141414" stroke-width="1.5" />
<rect x="42.30" y="279.94" width="3.80" height="3.80" fill="#141414"/>
<text x="52.90" y="284.04" font-size="6.4" font-weight="bold" text-anchor="start" fill="#141414" textLength="22.3" lengthAdjust="spacingAndGlyphs" stroke="#141414" stroke-width="0.15">VRX215</text>
<line x1="38.80" y1="289.97" x2="41.30" y2="289.97" stroke="#141414" stroke-width="1.5" />
<line x1="42.80" y1="289.97" x2="45.60" y2="289.97" stroke="#141414" stroke-width="1.5" />
<polygon points="44.20,288.07 46.10,289.97 44.20,291.87 42.30,289.97" fill="#141414"/>
<text x="52.90" y="292.17" font-size="6.4" font-weight="bold" text-anchor="start" fill="#141414" textLength="22.3" lengthAdjust="spacingAndGlyphs" stroke="#141414" stroke-width="0.15">VRX218</text>
<line x1="38.80" y1="298.10" x2="41.30" y2="298.10" stroke="#141414" stroke-width="1.5" />
<line x1="42.80" y1="298.10" x2="45.60" y2="298.10" stroke="#141414" stroke-width="1.5" />
<circle cx="44.20" cy="298.10" r="1.90" fill="#141414"/>
<text x="52.90" y="300.30" font-size="6.4" font-weight="bold" text-anchor="start" fill="#141414" textLength="22.3" lengthAdjust="spacingAndGlyphs" stroke="#141414" stroke-width="0.15">VRX250</text>
<line x1="38.80" y1="306.23" x2="41.30" y2="306.23" stroke="#141414" stroke-width="1.5" />
<line x1="42.80" y1="306.23" x2="45.60" y2="306.23" stroke="#141414" stroke-width="1.5" />
<polygon points="44.20,304.14 46.10,307.75 42.30,307.75" fill="#141414"/>
<text x="52.90" y="308.43" font-size="6.4" font-weight="bold" text-anchor="start" fill="#141414" textLength="22.3" lengthAdjust="spacingAndGlyphs" stroke="#141414" stroke-width="0.15">VRX251</text>
<line x1="38.80" y1="314.36" x2="41.30" y2="314.36" stroke="#141414" stroke-width="1.5" />
<line x1="42.80" y1="314.36" x2="45.60" y2="314.36" stroke="#141414" stroke-width="1.5" />
<circle cx="44.20" cy="314.36" r="1.90" fill="#bbb" stroke="#141414" stroke-width="0.7"/>
<text x="52.90" y="316.56" font-size="6.4" font-weight="bold" text-anchor="start" fill="#141414" textLength="22.3" lengthAdjust="spacingAndGlyphs" stroke="#141414" stroke-width="0.15">VRX252</text>
<text x="278.00" y="205.10" font-size="13.2" font-weight="bold" text-anchor="start" fill="#141414" textLength="9.2" lengthAdjust="spacingAndGlyphs">D</text>
<line x1="302.80" y1="338.95" x2="515.20" y2="338.95" stroke="#aaaaaa" stroke-width="1.35" />
<line x1="302.80" y1="312.90" x2="515.20" y2="312.90" stroke="#aaaaaa" stroke-width="1.35" />
<line x1="302.80" y1="286.85" x2="515.20" y2="286.85" stroke="#aaaaaa" stroke-width="1.35" />
<line x1="302.80" y1="260.80" x2="515.20" y2="260.80" stroke="#aaaaaa" stroke-width="1.35" />
<line x1="302.80" y1="234.75" x2="515.20" y2="234.75" stroke="#aaaaaa" stroke-width="1.35" />
<line x1="302.80" y1="208.70" x2="515.20" y2="208.70" stroke="#aaaaaa" stroke-width="1.35" />
<text x="295.60" y="367.50" font-size="7.0" font-weight="bold" text-anchor="middle" fill="#141414">0</text>
<text x="295.60" y="341.45" font-size="7.0" font-weight="bold" text-anchor="middle" fill="#141414">1</text>
<text x="295.60" y="315.40" font-size="7.0" font-weight="bold" text-anchor="middle" fill="#141414">2</text>
<text x="295.60" y="289.35" font-size="7.0" font-weight="bold" text-anchor="middle" fill="#141414">3</text>
<text x="295.60" y="263.30" font-size="7.0" font-weight="bold" text-anchor="middle" fill="#141414">4</text>
<text x="295.60" y="237.25" font-size="7.0" font-weight="bold" text-anchor="middle" fill="#141414">5</text>
<text x="295.60" y="211.20" font-size="7.0" font-weight="bold" text-anchor="middle" fill="#141414">6</text>
<line x1="305.00" y1="208.20" x2="305.00" y2="365.60" stroke="#a4a4a4" stroke-width="1.4" />
<line x1="302.80" y1="365.00" x2="515.20" y2="365.00" stroke="#a4a4a4" stroke-width="1.4" />
<line x1="305.50" y1="365.00" x2="305.50" y2="368.00" stroke="#a0a0a0" stroke-width="1" />
<line x1="331.50" y1="365.00" x2="331.50" y2="368.00" stroke="#a0a0a0" stroke-width="1" />
<line x1="357.50" y1="365.00" x2="357.50" y2="368.00" stroke="#a0a0a0" stroke-width="1" />
<line x1="383.50" y1="365.00" x2="383.50" y2="368.00" stroke="#a0a0a0" stroke-width="1" />
<line x1="409.50" y1="365.00" x2="409.50" y2="368.00" stroke="#a0a0a0" stroke-width="1" />
<line x1="436.50" y1="365.00" x2="436.50" y2="368.00" stroke="#a0a0a0" stroke-width="1" />
<line x1="462.50" y1="365.00" x2="462.50" y2="368.00" stroke="#a0a0a0" stroke-width="1" />
<line x1="488.50" y1="365.00" x2="488.50" y2="368.00" stroke="#a0a0a0" stroke-width="1" />
<line x1="514.50" y1="365.00" x2="514.50" y2="368.00" stroke="#a0a0a0" stroke-width="1" />
<text x="318.38" y="377.40" font-size="7.4" font-weight="bold" text-anchor="middle" fill="#141414" textLength="13.1" lengthAdjust="spacingAndGlyphs">201</text>
<text x="344.52" y="377.40" font-size="7.4" font-weight="bold" text-anchor="middle" fill="#141414" textLength="13.1" lengthAdjust="spacingAndGlyphs">203</text>
<text x="370.68" y="377.40" font-size="7.4" font-weight="bold" text-anchor="middle" fill="#141414" textLength="13.1" lengthAdjust="spacingAndGlyphs">204</text>
<text x="396.82" y="377.40" font-size="7.4" font-weight="bold" text-anchor="middle" fill="#141414" textLength="13.1" lengthAdjust="spacingAndGlyphs">215</text>
<text x="422.98" y="377.40" font-size="7.4" font-weight="bold" text-anchor="middle" fill="#141414" textLength="13.1" lengthAdjust="spacingAndGlyphs">218</text>
<text x="449.12" y="377.40" font-size="7.4" font-weight="bold" text-anchor="middle" fill="#141414" textLength="13.1" lengthAdjust="spacingAndGlyphs">250</text>
<text x="475.27" y="377.40" font-size="7.4" font-weight="bold" text-anchor="middle" fill="#141414" textLength="13.1" lengthAdjust="spacingAndGlyphs">251</text>
<text x="501.43" y="377.40" font-size="7.4" font-weight="bold" text-anchor="middle" fill="#141414" textLength="13.1" lengthAdjust="spacingAndGlyphs">252</text>
<text x="388.90" y="391.80" font-size="9.4" font-weight="bold" text-anchor="start" fill="#141414" textLength="28.8" lengthAdjust="spacingAndGlyphs">Patient</text>
<text transform="translate(281.50 323.60) rotate(-90)" font-size="8.8" font-weight="bold" fill="#141414" textLength="13.60" lengthAdjust="spacingAndGlyphs">Log</text>
<text transform="translate(282.40 306.00) rotate(-90)" font-size="5.2" font-weight="bold" fill="#141414" textLength="4.40" lengthAdjust="spacingAndGlyphs">10</text>
<text transform="translate(281.50 299.60) rotate(-90)" font-size="8.4" font-weight="bold" fill="#141414" textLength="41.20" lengthAdjust="spacingAndGlyphs">Viral Load</text>
<polygon points="318.38,235.92 321.38,238.92 318.38,241.92 315.38,238.92" fill="#fff" stroke="#141414" stroke-width="1.0"/>
<polygon points="344.52,236.44 347.52,239.44 344.52,242.44 341.52,239.44" fill="#fff" stroke="#141414" stroke-width="1.0"/>
<polygon points="370.68,230.97 373.68,233.97 370.68,236.97 367.68,233.97" fill="#fff" stroke="#141414" stroke-width="1.0"/>
<polygon points="396.82,242.69 399.82,245.69 396.82,248.69 393.82,245.69" fill="#fff" stroke="#141414" stroke-width="1.0"/>
<polygon points="422.98,257.54 425.98,260.54 422.98,263.54 419.98,260.54" fill="#fff" stroke="#141414" stroke-width="1.0"/>
<polygon points="449.12,228.36 452.12,231.36 449.12,234.36 446.12,231.36" fill="#fff" stroke="#141414" stroke-width="1.0"/>
<polygon points="475.27,245.30 478.27,248.30 475.27,251.30 472.27,248.30" fill="#fff" stroke="#141414" stroke-width="1.0"/>
<polygon points="501.43,226.02 504.43,229.02 501.43,232.02 498.43,229.02" fill="#fff" stroke="#141414" stroke-width="1.0"/>
<rect x="315.77" y="243.09" width="5.20" height="5.20" fill="#141414"/>
<rect x="341.92" y="250.65" width="5.20" height="5.20" fill="#141414"/>
<rect x="368.07" y="256.64" width="5.20" height="5.20" fill="#141414"/>
<rect x="394.22" y="268.10" width="5.20" height="5.20" fill="#141414"/>
<rect x="420.38" y="255.07" width="5.20" height="5.20" fill="#141414"/>
<rect x="446.52" y="233.97" width="5.20" height="5.20" fill="#141414"/>
<rect x="472.67" y="252.99" width="5.20" height="5.20" fill="#141414"/>
<rect x="498.82" y="326.45" width="5.20" height="5.20" fill="#141414"/>
<polygon points="319.20,324.20 321.20,326.20 319.20,328.20 317.20,326.20" fill="#fff" stroke="#141414" stroke-width="1.0"/>
<text x="322.70" y="329.00" font-size="7.2" font-weight="bold" text-anchor="start" fill="#141414" textLength="50.8" lengthAdjust="spacingAndGlyphs" stroke="#141414" stroke-width="0.2">Historic Set Point</text>
<rect x="317.30" y="343.20" width="3.20" height="3.20" fill="#141414"/>
<text x="322.70" y="347.40" font-size="7.2" font-weight="bold" text-anchor="start" fill="#141414" textLength="68.6" lengthAdjust="spacingAndGlyphs" stroke="#141414" stroke-width="0.2">Post VRX496T Set Point</text>
</svg></body></html>
